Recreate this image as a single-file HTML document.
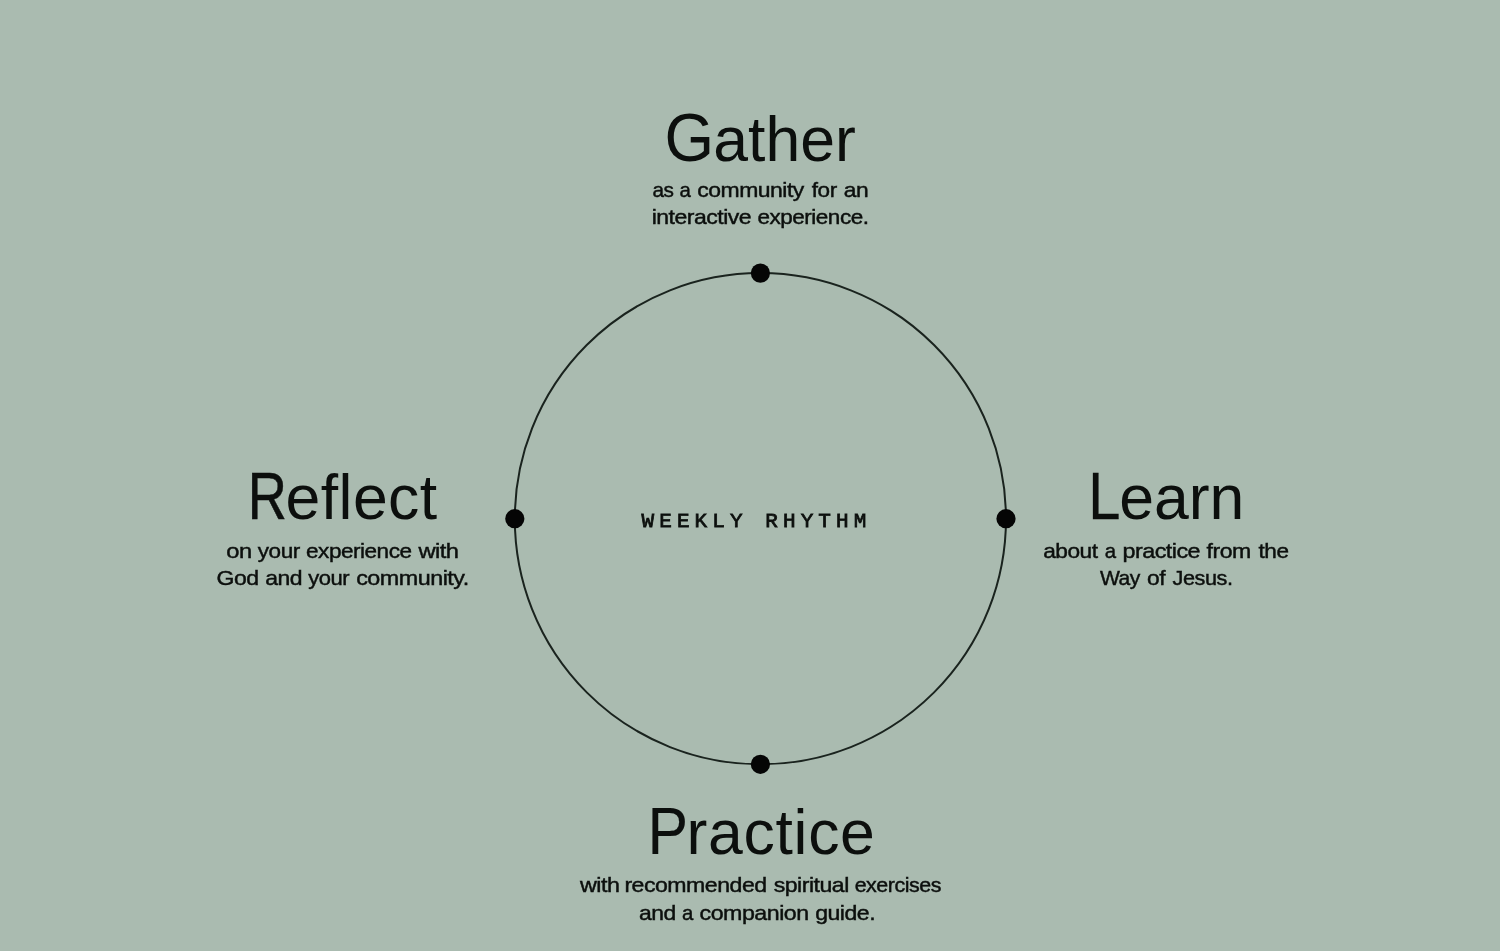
<!DOCTYPE html>
<html lang="en">
<head>
<meta charset="utf-8">
<title>Weekly Rhythm</title>
<style>
  html, body { margin: 0; padding: 0; }
  body {
    width: 1500px; height: 951px; overflow: hidden; position: relative;
    background: #aabbb0;
    font-family: "Liberation Sans", Arial, sans-serif;
    color: #0c0f0d;
  }
  .stage { position: absolute; left: 0; top: 0; width: 1500px; height: 951px; will-change: transform; }
  svg.ring { position: absolute; left: 0; top: 0; width: 1500px; height: 951px; }
  h2, p { margin: 0; font-weight: 400; }
  .t { position: absolute; white-space: nowrap; line-height: 1; margin: 0; transform-origin: 0 0; }
  .r { font-size: 62.5px; }
  .s { font-size: 21px; letter-spacing: -0.45px; -webkit-text-stroke: 0.45px #0c0f0d; }
  .c { font-family: "Liberation Mono", "DejaVu Sans Mono", monospace; font-size: 21px; font-weight: 400; -webkit-text-stroke: 0.8px #0c0f0d; }
</style>
</head>
<body>
<main class="stage">
<svg class="ring" viewBox="0 0 1500 951" aria-hidden="true">
  <circle cx="760.4" cy="518.7" r="245.6" fill="none" stroke="#1a231e" stroke-width="2.0"/>
  <circle cx="760.4" cy="273.1" r="9.6" fill="#050505"/>
  <circle cx="760.4" cy="764.3" r="9.6" fill="#050505"/>
  <circle cx="514.8" cy="518.7" r="9.6" fill="#050505"/>
  <circle cx="1006.0" cy="518.7" r="9.6" fill="#050505"/>
</svg>

<section>
<h2><span class="t k" id="h1c" style="left:664px; top:104px; font-size:68.50px; transform:translateX(0.50px) scaleX(0.931);">G</span><span class="t r" id="h1r" style="left:713px; top:108px; letter-spacing:0.02px; transform:translateX(0.31px);">ather</span></h2>
<p><span class="t s" id="s1a_0" style="left:652px; top:179px; transform:translateX(0.40px) scaleX(0.9896);">as</span> <span class="t s" id="s1a_1" style="left:679px; top:179px; transform:translateX(0.48px) scaleX(0.9700);">a</span> <span class="t s" id="s1a_2" style="left:697px; top:179px; transform:translateX(0.28px) scaleX(1.0933);">community</span> <span class="t s" id="s1a_3" style="left:811px; top:179px; transform:translateX(0.85px) scaleX(1.0722);">for</span> <span class="t s" id="s1a_4" style="left:843px; top:179px; transform:translateX(0.83px) scaleX(1.0856);">an</span></p>
<p><span class="t s" id="s1b_0" style="left:651px; top:206px; transform:translateX(0.63px) scaleX(1.0966);">interactive</span> <span class="t s" id="s1b_1" style="left:757px; top:206px; transform:translateX(0.43px) scaleX(1.0715);">experience.</span></p>
</section>

<section>
<h2><span class="t k" id="h2c" style="left:247px; top:462px; font-size:67.50px; transform:translateX(0.72px) scaleX(0.804); -webkit-text-stroke:0.50px #0c0f0d;">R</span><span class="t r" id="h2r" style="left:285px; top:466px; letter-spacing:0.44px; transform:translateX(0.56px);">eflect</span></h2>
<p><span class="t s" id="s2a_0" style="left:226px; top:540px; transform:translateX(0.35px) scaleX(1.1295);">on</span> <span class="t s" id="s2a_1" style="left:257px; top:540px; transform:translateX(0.83px) scaleX(1.0726);">your</span> <span class="t s" id="s2a_2" style="left:306px; top:540px; transform:translateX(0.03px) scaleX(1.0738);">experience</span> <span class="t s" id="s2a_3" style="left:418px; top:540px; transform:translateX(0.43px) scaleX(1.1286);">with</span></p>
<p><span class="t s" id="s2b_0" style="left:216px; top:567px; transform:translateX(0.49px) scaleX(1.0979);">God</span> <span class="t s" id="s2b_1" style="left:265px; top:567px; transform:translateX(0.26px) scaleX(1.0936);">and</span> <span class="t s" id="s2b_2" style="left:308px; top:567px; transform:translateX(0.14px) scaleX(1.0480);">your</span> <span class="t s" id="s2b_3" style="left:356px; top:567px; transform:translateX(0.15px) scaleX(1.1115);">community.</span></p>
</section>

<section>
<h2><span class="t k" id="h3c" style="left:1088px; top:462px; font-size:67.50px; transform:translateX(0.16px) scaleX(0.857); -webkit-text-stroke:0.30px #0c0f0d;">L</span><span class="t r" id="h3r" style="left:1119px; top:466px; letter-spacing:0.00px; transform:translateX(0.13px);">earn</span></h2>
<p><span class="t s" id="s3a_0" style="left:1043px; top:540px; transform:translateX(0.13px) scaleX(1.0808);">about</span> <span class="t s" id="s3a_1" style="left:1104px; top:540px; transform:translateX(0.80px) scaleX(0.9700);">a</span> <span class="t s" id="s3a_2" style="left:1122px; top:540px; transform:translateX(0.43px) scaleX(1.1106);">practice</span> <span class="t s" id="s3a_3" style="left:1206px; top:540px; transform:translateX(0.61px) scaleX(1.0986);">from</span> <span class="t s" id="s3a_4" style="left:1258px; top:540px; transform:translateX(0.53px) scaleX(1.0745);">the</span></p>
<p><span class="t s" id="s3b_0" style="left:1099px; top:567px; transform:translateX(0.94px) scaleX(1.0026);">Way</span> <span class="t s" id="s3b_1" style="left:1147px; top:567px; transform:translateX(0.03px) scaleX(1.0862);">of</span> <span class="t s" id="s3b_2" style="left:1172px; top:567px; transform:translateX(0.62px) scaleX(1.0316);">Jesus.</span></p>
</section>

<section>
<h2><span class="t k" id="h4c" style="left:647px; top:797px; font-size:67.50px; transform:translateX(0.58px) scaleX(0.901); -webkit-text-stroke:0.10px #0c0f0d;">P</span><span class="t r" id="h4r" style="left:686px; top:801px; letter-spacing:0.71px; transform:translateX(0.53px);">ractice</span></h2>
<p><span class="t s" id="s4a_0" style="left:579px; top:874px; transform:translateX(0.99px) scaleX(1.1097);">with</span> <span class="t s" id="s4a_1" style="left:624px; top:874px; transform:translateX(0.40px) scaleX(1.1000);">recommended</span> <span class="t s" id="s4a_2" style="left:773px; top:874px; transform:translateX(0.71px) scaleX(1.0986);">spiritual</span> <span class="t s" id="s4a_3" style="left:854px; top:874px; transform:translateX(0.63px) scaleX(1.0195);">exercises</span></p>
<p><span class="t s" id="s4b_0" style="left:638px; top:902px; transform:translateX(0.99px) scaleX(1.0905);">and</span> <span class="t s" id="s4b_1" style="left:682px; top:902px; transform:translateX(0.09px) scaleX(0.9700);">a</span> <span class="t s" id="s4b_2" style="left:699px; top:902px; transform:translateX(0.60px) scaleX(1.1045);">companion</span> <span class="t s" id="s4b_3" style="left:815px; top:902px; transform:translateX(0.16px) scaleX(1.0997);">guide.</span></p>
</section>

<div class="t c" id="c1" style="left:641px; top:511px; letter-spacing:5.07px; transform:translateX(0.60px);">WEEKLY RHYTHM</div>
</main>
</body>
</html>
